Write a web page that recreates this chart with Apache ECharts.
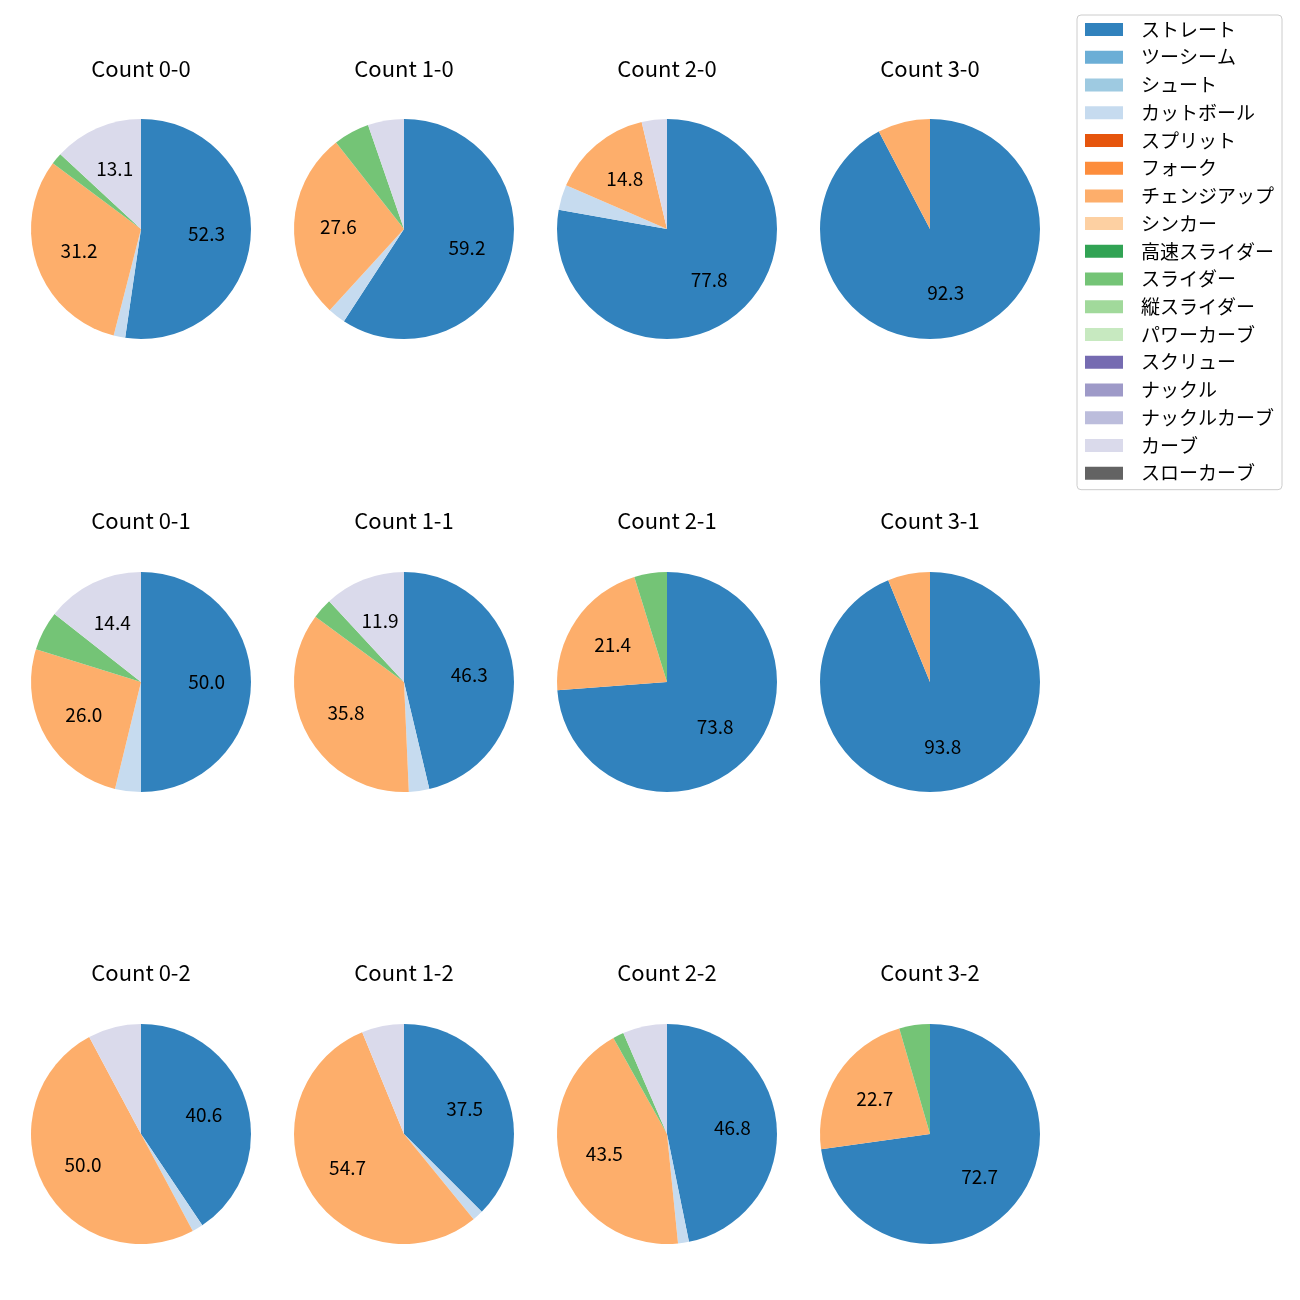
<!DOCTYPE html>
<html>
<head>
<meta charset="utf-8">
<script src="https://cdn.jsdelivr.net/npm/echarts@6/dist/echarts.min.js"></script>
<style>
html,body{margin:0;padding:0;background:#fff;}
#chart{width:1300px;height:1300px;}
</style>
</head>
<body>
<div id="chart"></div>
<script>
const categories = ['ストレート','ツーシーム','シュート','カットボール','スプリット','フォーク','チェンジアップ','シンカー','高速スライダー','スライダー','縦スライダー','パワーカーブ','スクリュー','ナックル','ナックルカーブ','カーブ','スローカーブ'];
const colors = ['#3182bd','#6baed6','#9ecae1','#c6dbef','#e6550d','#fd8d3c','#fdae6b','#fdd0a2','#31a354','#74c476','#a1d99b','#c7e9c0','#756bb1','#9e9ac8','#bcbddc','#dadaeb','#636363'];
const titles = ['Count 0-0','Count 1-0','Count 2-0','Count 3-0','Count 0-1','Count 1-1','Count 2-1','Count 3-1','Count 0-2','Count 1-2','Count 2-2','Count 3-2'];
// percentages per category (order as categories)
const count00 = [52.3,0,0,1.7,0,0,31.2,0,0,1.7,0,0,0,0,0,13.1,0];
const count10 = [59.2,0,0,2.6,0,0,27.6,0,0,5.3,0,0,0,0,0,5.3,0];
const count20 = [77.8,0,0,3.7,0,0,14.8,0,0,0,0,0,0,0,0,3.7,0];
const count30 = [92.3,0,0,0,0,0,7.7,0,0,0,0,0,0,0,0,0,0];
const count01 = [50.0,0,0,3.8,0,0,26.0,0,0,5.8,0,0,0,0,0,14.4,0];
const count11 = [46.3,0,0,3.0,0,0,35.8,0,0,3.0,0,0,0,0,0,11.9,0];
const count21 = [73.8,0,0,0,0,0,21.4,0,0,4.8,0,0,0,0,0,0,0];
const count31 = [93.8,0,0,0,0,0,6.2,0,0,0,0,0,0,0,0,0,0];
const count02 = [40.6,0,0,1.6,0,0,50.0,0,0,0,0,0,0,0,0,7.8,0];
const count12 = [37.5,0,0,1.6,0,0,54.7,0,0,0,0,0,0,0,0,6.2,0];
const count22 = [46.8,0,0,1.6,0,0,43.5,0,0,1.6,0,0,0,0,0,6.5,0];
const count32 = [72.7,0,0,0,0,0,22.7,0,0,4.5,0,0,0,0,0,0,0];
const allData = [count00,count10,count20,count30,count01,count11,count21,count31,count02,count12,count22,count32];

const FONT = '"Noto Sans CJK JP", "Noto Sans", sans-serif';
const colX = [141,404,667,930];
const rowY = [229,682,1134];
const titleY = [69,521,973];
const R = 110;

const series = [];
const overlays = [];
const titleOpts = [];
allData.forEach((vals, i) => {
  const col = i % 4, row = Math.floor(i / 4);
  const cx = colX[col], cy = rowY[row];
  const data = categories.map((c, k) => ({name: c, value: vals[k], itemStyle: {color: colors[k]}}));
  series.push({
    type: 'pie', center: [cx, cy], radius: [0, R], startAngle: 90, clockwise: true,
    data: data, label: {show: false}, labelLine: {show: false},
    itemStyle: {borderWidth: 0}, emphasis: {disabled: true}, silent: true, animation: false
  });
  overlays.push({
    type: 'pie', center: [cx, cy], radius: [R * 0.14, R], startAngle: 90, clockwise: true,
    data: categories.map((c, k) => ({name: c, value: vals[k]})),
    itemStyle: {color: 'rgba(0,0,0,0)', borderWidth: 0},
    label: {
      show: true, position: 'inside', color: '#000', fontFamily: FONT, fontSize: 19,
      padding: [0, 0, 4, 0],
      formatter: p => (p.value >= 10 ? p.value.toFixed(1) : '')
    },
    labelLine: {show: false}, emphasis: {disabled: true}, silent: true, animation: false,
    legendHoverLink: false
  });
  titleOpts.push({
    text: titles[i], left: cx, top: titleY[row] - 11, textAlign: 'center', padding: 0,
    textStyle: {fontFamily: FONT, fontSize: 22, fontWeight: 'normal', color: '#000', lineHeight: 22}
  });
});

const chart = echarts.init(document.getElementById('chart'), null, {renderer: 'canvas'});
chart.setOption({
  animation: false,
  title: titleOpts,
  legend: {
    data: categories, orient: 'vertical', left: 1077, top: 15,
    icon: 'rect', itemWidth: 38, itemHeight: 13, itemGap: 8.73,
    padding: [5, 8, 7, 8],
    backgroundColor: '#fff', borderColor: '#ccc', borderWidth: 1, borderRadius: 4,
    selectedMode: false,
    textStyle: {fontFamily: FONT, fontSize: 19, lineHeight: 19, color: '#000', padding: [0, 0, 0, 13]}
  },
  series: series.concat(overlays)
});
</script>
</body>
</html>
